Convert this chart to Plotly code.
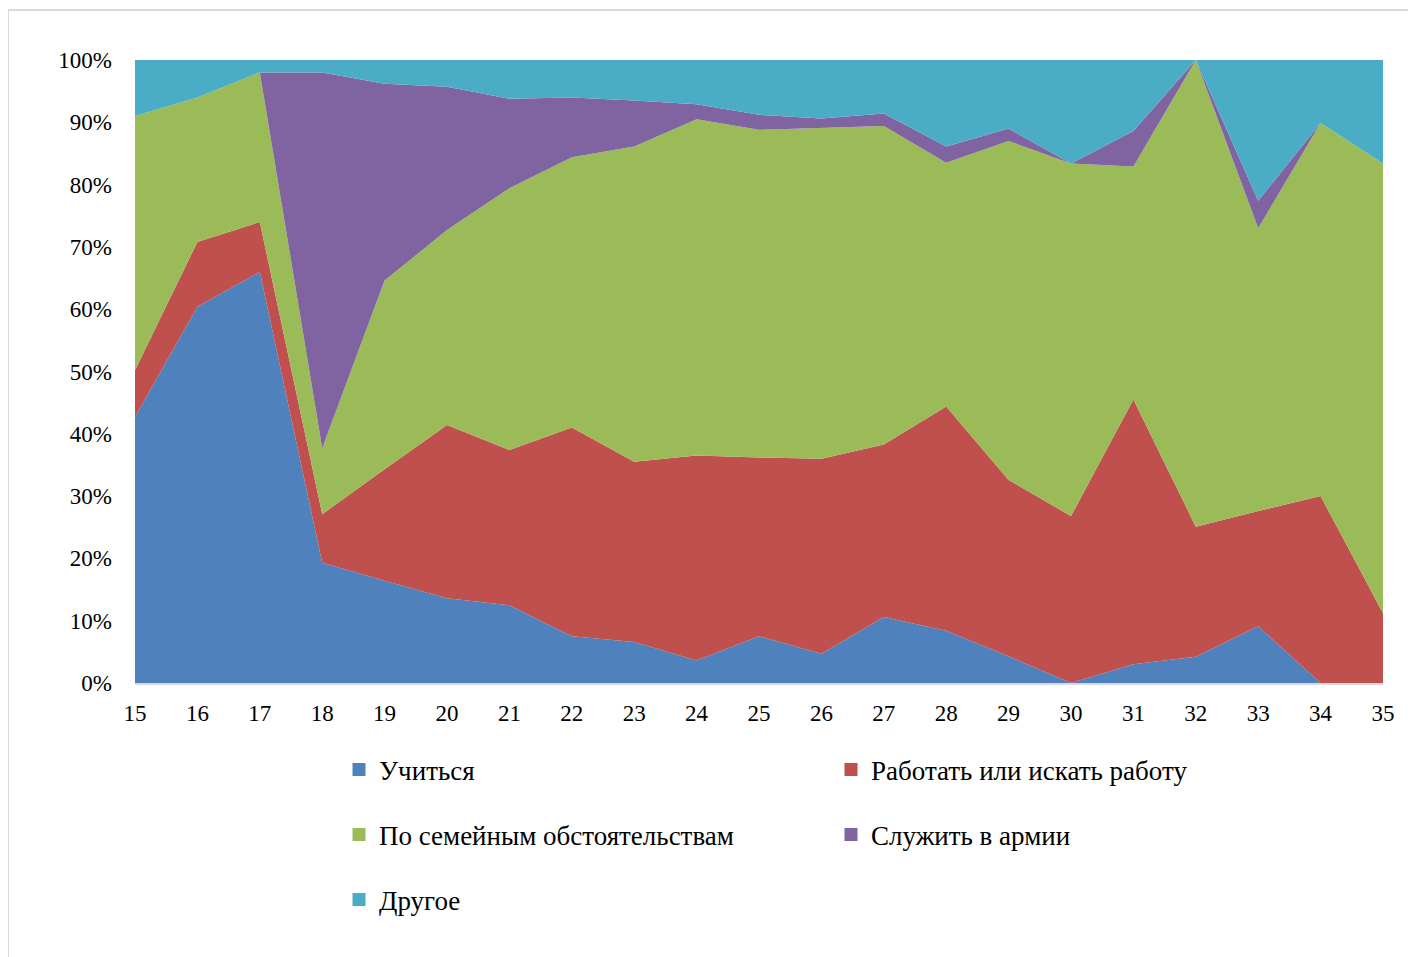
import plotly.graph_objects as go

ages = list(range(15, 36))

study = [42.7, 60.4, 66.0, 19.3, 16.4, 13.6, 12.5, 7.5, 6.6, 3.6, 7.5, 4.7, 10.6, 8.4, 4.3, 0.0, 3.0, 4.2, 9.1, 0.0, 0.0]
work = [7.5, 10.4, 8.0, 7.8, 17.9, 27.8, 24.9, 33.5, 28.9, 32.9, 28.7, 31.3, 27.7, 36.0, 28.3, 26.8, 42.5, 20.9, 18.5, 30.0, 11.2]
family = [40.8, 23.2, 24.0, 10.6, 30.3, 31.3, 42.0, 43.4, 50.6, 54.0, 52.6, 53.1, 51.1, 39.1, 54.4, 56.6, 37.4, 74.9, 45.4, 59.9, 72.2]
army = [0.0, 0.0, 0.0, 60.3, 31.6, 23.0, 14.4, 9.6, 7.4, 2.4, 2.4, 1.5, 2.0, 2.6, 2.0, 0.0, 5.7, 0.0, 4.4, 0.0, 0.0]
other = [9.0, 6.0, 2.0, 2.0, 3.8, 4.3, 6.2, 6.0, 6.5, 7.1, 8.8, 9.4, 8.6, 13.9, 11.0, 16.6, 11.4, 0.0, 22.6, 10.1, 16.6]

names = ["Учиться", "Работать или искать работу", "По семейным обстоятельствам", "Служить в армии", "Другое"]
series = [study, work, family, army, other]
colors = ["#4F81BD", "#C0504D", "#9BBB59", "#8064A2", "#4BACC6"]
legend_ids = ["legend", "legend", "legend2", "legend2", "legend3"]

tick_vals = [0, 10, 20, 30, 40, 50, 60, 70, 80, 90, 100]
tick_text = [f"{v}%" for v in tick_vals]

fig = go.Figure()
for name, vals, col in zip(names, series, colors):
    fig.add_trace(go.Scatter(
        x=ages, y=vals, name=name, mode="lines", stackgroup="one", groupnorm="percent",
        line=dict(width=0, color=col), fillcolor=col, showlegend=False,
    ))

for name, col, lg in zip(names, colors, legend_ids):
    fig.add_trace(go.Scatter(
        x=[None], y=[None], name=name, mode="markers",
        marker=dict(symbol="square", size=13, color=col), legend=lg, showlegend=True,
    ))

# page has an 8px body margin; figure offset accordingly
W, H = 1400, 949
OFF = 8
L, T = 135 - OFF, 60 - OFF
R = W - (1383 - OFF)
B = H - (683 - OFF)
font = "Liberation Serif, Times New Roman, serif"

leg_common = dict(orientation="h", entrywidth=447, entrywidthmode="pixels", traceorder="normal",
                  xref="container", yref="container", xanchor="left", yanchor="middle",
                  x=331 / W, font=dict(family=font, size=27, color="#000000"),
                  bgcolor="rgba(0,0,0,0)", itemclick=False)

def ly(page_y):
    return 1 - (page_y - OFF - 2) / H

fig.update_layout(
    width=W, height=H,
    margin=dict(l=L, r=R, t=T, b=B, pad=0),
    paper_bgcolor="white", plot_bgcolor="white",
    font=dict(family=font, size=23, color="#000000"),
    legend=dict(**leg_common, y=ly(772)),
    legend2=dict(**leg_common, y=ly(837)),
    legend3=dict(**leg_common, y=ly(902)),
    xaxis=dict(range=[15, 35], tickmode="array", tickvals=ages, ticktext=[str(a) for a in ages],
               showgrid=False, zeroline=False, showline=True, linecolor="#d9d9d9", linewidth=2,
               ticks="", ticklabelstandoff=8, tickfont=dict(family=font, size=23)),
    yaxis=dict(range=[0, 100], tickmode="array", tickvals=tick_vals, ticktext=tick_text,
               showgrid=False, zeroline=False, showline=False, ticks="",
               ticklabelstandoff=22, tickfont=dict(family=font, size=23)),
    hovermode=False,
)

# outer chart-area border (light gray)
pw, ph = W - L - R, H - T - B
fig.add_shape(type="rect", xref="paper", yref="paper",
              x0=(0 - L) / pw, x1=(W + 20 - L) / pw,
              y0=(H - B - (H + 20)) / ph, y1=(H - B - 2) / ph,
              line=dict(color="#d9d9d9", width=2), fillcolor="rgba(0,0,0,0)", layer="below")

fig.write_html("out.html")
